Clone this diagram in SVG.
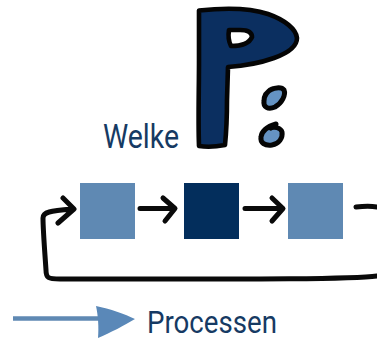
<svg xmlns="http://www.w3.org/2000/svg" width="377" height="341" viewBox="0 0 377 341">
<style>
.t{font-family:Roboto,"Liberation Sans",sans-serif;fill:#163a63}
.k{fill:none;stroke:#0a0a0a;stroke-width:5;stroke-linecap:round;stroke-linejoin:round}
.l{fill:#5f89b3}
.d{fill:#032e5c}
</style>
<rect width="377" height="341" fill="#fff"/>
<g id="letter-p">
<path d="M199 10.500C222 8 250 8 268 14C285 20 296 29 297 38C297 46 288 53 274 58C260 63 242 66 228 67L227 100C227 120 226 135 225 145C215 147 205 147 199 146C198 120 199 90 199 60C199 40 199 25 199 10.500Z M229 30C228 36 229 42 231 46C240 46 249 44 252 37C252 32 248 30 240 30Z" fill="#0b2f60" fill-rule="evenodd" stroke="#050505" stroke-width="4.600" stroke-linejoin="round"/>
</g>
<g id="dot-top"><path d="M270 90C276 87 282 87 284 90C286 95 282 103 275 107C268 110 263 107 264 101C264 97 266 92 272 89" fill="#6593c3" stroke="#050505" stroke-width="5" stroke-linecap="round"/></g>
<g id="dot-bottom"><path d="M276 124C269 126 262 130 261 137C260 143 265 146 272 145C279 144 283 138 282 132C281 128 274 126 271 128" fill="#6593c3" stroke="#050505" stroke-width="5" stroke-linecap="round"/></g>
<g id="label-welke"><text class="t" x="103" y="148" font-size="34" textLength="76" lengthAdjust="spacingAndGlyphs">Welke</text></g>
<g id="box-1"><rect class="l" x="80" y="183" width="55" height="56"/></g>
<g id="box-2"><rect class="d" x="184" y="183" width="55" height="56"/></g>
<g id="box-3"><rect class="l" x="288" y="183" width="55" height="56"/></g>
<g id="connectors">
<path class="k" d="M140 208.500H174M163 198L175 208.500L165 221"/>
<path class="k" d="M245 208.500H282M272 198L283 208.500L272 221"/>
<path class="k" d="M356 207C364 206 372 206 377 207M377 276C350 280 200 279 60 279C48 279 46 278 46 270C45 255 43 230 43 218C43 212 50 211 72 209M63 198L74 209L58 223"/>
<path d="M13 318.500H100" fill="none" stroke="#5f89b3" stroke-width="4.500"/>
<path d="M96 306C110 309 125 314 135 319C125 325 110 333 98 338C99 327 98 315 96 306Z" fill="#5a88b8"/>
</g>
<g id="label-processen"><text class="t" x="147" y="333" font-size="32" textLength="130" lengthAdjust="spacingAndGlyphs">Processen</text></g>
</svg>
